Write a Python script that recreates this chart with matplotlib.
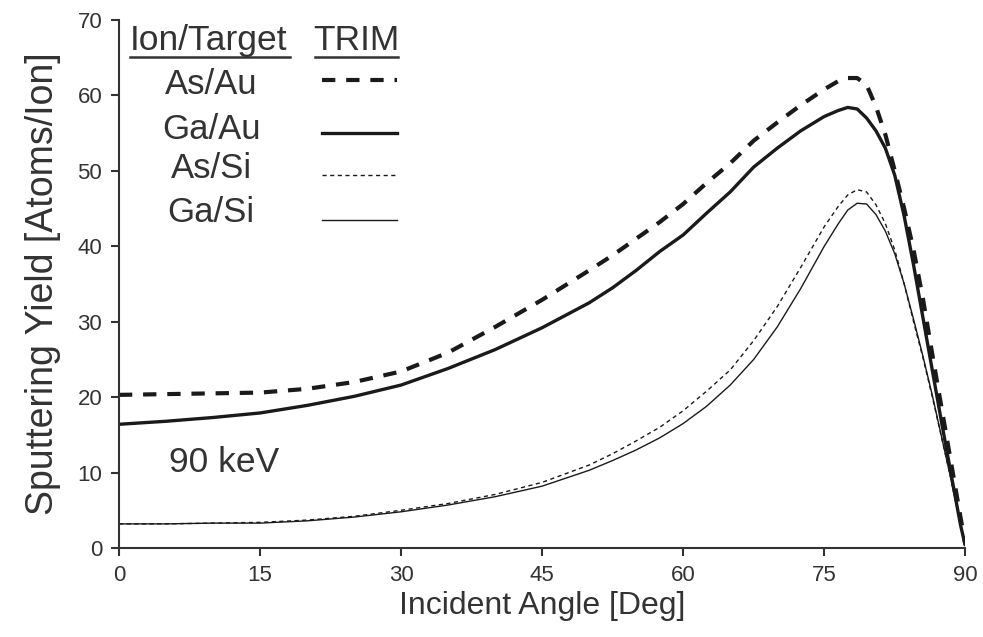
import matplotlib
matplotlib.use('Agg')
import matplotlib.pyplot as plt
from matplotlib.lines import Line2D

plt.rcParams['font.family'] = ['Liberation Sans', 'DejaVu Sans']

# incident angle [deg]
angles = [0, 5, 10, 15, 20, 25, 30, 35, 40, 45,
          50, 52.5, 55, 57.5, 60, 62.5, 65, 67.5, 70, 72.5,
          75, 76.5, 77.5, 78.5, 79.5, 80.5, 81.5, 82.5, 83.5, 84.5,
          85.5, 86.5, 87.5, 88.5, 89.5, 90]
# sputtering yield [atoms/ion], TRIM
as_au = [20.3, 20.4, 20.5, 20.6, 21.1, 22.0, 23.4, 25.9, 29.3, 32.9,
         36.8, 38.8, 41.0, 43.2, 45.6, 48.4, 51.0, 54.0, 56.4, 58.7,
         60.8, 61.9, 62.3, 62.3, 61.4, 58.5, 54.8, 50.0, 45.0, 39.5,
         33.0, 25.6, 18.4, 11.2, 4.0, 0.5]
ga_au = [16.4, 16.8, 17.3, 17.9, 18.9, 20.1, 21.6, 23.8, 26.3, 29.2,
         32.5, 34.5, 36.8, 39.3, 41.5, 44.4, 47.2, 50.5, 53.0, 55.3,
         57.2, 58.0, 58.4, 58.2, 57.0, 55.3, 53.0, 49.4, 44.0, 37.5,
         30.5, 23.5, 16.5, 9.7, 3.0, 0.3]
as_si = [3.2, 3.2, 3.3, 3.4, 3.7, 4.2, 5.0, 5.9, 7.1, 8.7,
         11.0, 12.5, 14.2, 16.0, 18.2, 20.8, 23.6, 27.5, 32.0, 37.2,
         42.6, 45.3, 46.8, 47.5, 47.2, 45.5, 43.0, 39.5, 35.0, 30.0,
         25.2, 20.0, 14.5, 9.0, 3.0, 0.3]
ga_si = [3.2, 3.2, 3.3, 3.3, 3.6, 4.1, 4.8, 5.7, 6.8, 8.2,
         10.3, 11.6, 13.0, 14.6, 16.5, 18.8, 21.6, 25.0, 29.3, 34.4,
         40.0, 43.0, 44.8, 45.7, 45.6, 44.2, 42.0, 39.0, 35.0, 30.3,
         25.4, 20.2, 14.6, 9.0, 3.0, 0.2]

labels = ['As/Au', 'Ga/Au', 'As/Si', 'Ga/Si']
xticks = [0, 15, 30, 45, 60, 75, 90]
yticks = [0, 10, 20, 30, 40, 50, 60, 70]

ink = '#1a1a1a'
txt = '#333333'
styles = [
    dict(color=ink, lw=3.0, linestyle=(0, (3.2, 2.6))),
    dict(color=ink, lw=2.4, linestyle='-'),
    dict(color=ink, lw=1.0, linestyle=(0, (3.0, 2.5))),
    dict(color=ink, lw=1.0, linestyle='-'),
]

fig = plt.figure(figsize=(9.83, 6.37), dpi=100)
ax = fig.add_axes([0.121, 0.1397, 0.861, 0.829])

for ys, st in zip([as_au, ga_au, as_si, ga_si], styles):
    ax.plot(angles, ys, solid_capstyle='butt', dash_capstyle='butt',
            solid_joinstyle='round', dash_joinstyle='round', **st)

ax.set_xlim(0, 90)
ax.set_ylim(0, 70)
ax.set_xticks(xticks)
ax.set_yticks(yticks)
for side in ['top', 'right']:
    ax.spines[side].set_visible(False)
for side in ['left', 'bottom']:
    ax.spines[side].set_linewidth(1.5)
    ax.spines[side].set_color('#333333')
ax.tick_params(direction='out', length=6, width=1.5, color='#333333',
               labelsize=16, labelcolor=txt, pad=6)
ax.set_xlabel('Incident Angle [Deg]', fontsize=23, color=txt, labelpad=4)
ax.set_ylabel('Sputtering Yield [Atoms/Ion]', fontsize=27, color=txt, labelpad=12)

# hand-made legend table
ax.text(0.106, 0.962, 'Ion/Target', transform=ax.transAxes, ha='center', va='center',
        fontsize=25.5, color=txt)
ax.text(0.281, 0.962, 'TRIM', transform=ax.transAxes, ha='center', va='center',
        fontsize=25.5, color=txt)
for x0, x1 in [(0.013, 0.202), (0.232, 0.330)]:
    ax.add_line(Line2D([x0, x1], [0.930, 0.930], transform=ax.transAxes,
                       color=txt, lw=1.8, clip_on=False))

label_y = [0.877, 0.792, 0.718, 0.636]
line_y = [0.886, 0.786, 0.706, 0.621]
for lab, ly, sy, st in zip(labels, label_y, line_y, styles):
    ax.text(0.109, ly, lab, transform=ax.transAxes, ha='center', va='center',
            fontsize=25, color=txt)
    ax.add_line(Line2D([0.240, 0.329], [sy, sy], transform=ax.transAxes,
                       dash_capstyle='butt', clip_on=False, **st))

ax.text(0.124, 0.161, '90 keV', transform=ax.transAxes, ha='center', va='center',
        fontsize=25.5, color=txt)

plt.savefig('out.png', dpi=100)
plt.close()
